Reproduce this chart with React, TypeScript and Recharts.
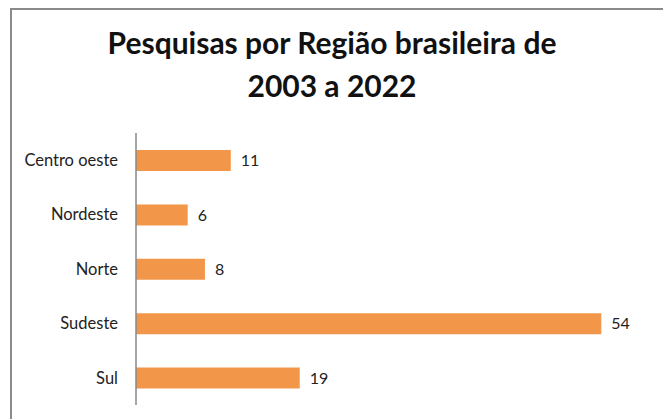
import { BarChart, Bar, XAxis, YAxis, LabelList } from "recharts";

const regions = ["Centro oeste", "Nordeste", "Norte", "Sudeste", "Sul"];
const counts = [11, 6, 8, 54, 19];

const data = regions.map((name, i) => ({ name, value: counts[i] }));

const font = "Lato, 'Open Sans', sans-serif";

export default function App() {
  return (
    <div
      style={{
        position: "absolute",
        left: 0,
        top: 0,
        width: 663,
        height: 419,
        background: "#fff",
        overflow: "hidden",
        fontFamily: font,
      }}
    >
      <div
        style={{
          position: "absolute",
          left: 10,
          top: 8,
          width: 700,
          height: 500,
          borderLeft: "2px solid #8a8a8a",
          borderTop: "2px solid #8a8a8a",
        }}
      />
      <div
        style={{
          position: "absolute",
          left: 0,
          top: 21,
          width: 664,
          textAlign: "center",
          fontWeight: 700,
          fontSize: 30,
          lineHeight: "43px",
          color: "#111",
        }}
      >
        Pesquisas por Região brasileira de
        <br />
        2003 a 2022
      </div>
      <BarChart
        width={663}
        height={419}
        data={data}
        layout="vertical"
        margin={{ top: 133, right: 10, bottom: 14, left: 0 }}
        style={{ position: "absolute", left: 0, top: 0 }}
      >
        <XAxis type="number" domain={[0, 60]} hide />
        <YAxis
          type="category"
          dataKey="name"
          width={136}
          axisLine={{ stroke: "#888", strokeWidth: 1.5 }}
          tickLine={false}
          tickMargin={12}
          tick={{ fill: "#222", fontSize: 16.5, fontFamily: font }}
        />
        <Bar dataKey="value" fill="#F2974A" barSize={21} isAnimationActive={false}>
          <LabelList
            dataKey="value"
            position="right"
            offset={10}
            fill="#222"
            fontSize={16}
            fontFamily={font}
          />
        </Bar>
      </BarChart>
    </div>
  );
}
